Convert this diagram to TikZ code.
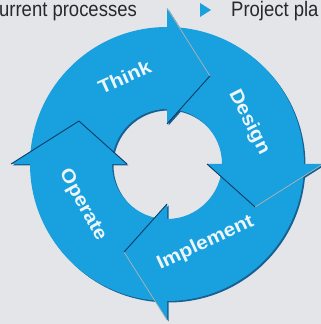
\documentclass[tikz,border=0pt]{standalone}
\usepackage{fontspec}
\setmainfont{Liberation Sans}
\newfontfamily\narrowfont[FakeStretch=0.88]{Liberation Sans}
\newfontfamily\widefont[FakeStretch=1.1]{Liberation Sans}
\usepackage{tikz}
\usepackage{xcolor}
\usetikzlibrary{positioning}
\definecolor{cycleblue}{RGB}{25,160,222}
\definecolor{cycleshade}{RGB}{24,96,146}
\definecolor{cycledark}{RGB}{12,60,100}
\definecolor{pagegrey}{RGB}{228,229,233}
\definecolor{textgrey}{RGB}{40,40,40}
\definecolor{labelwhite}{RGB}{236,246,252}

\begin{document}
\begin{tikzpicture}[x=1pt, y=1pt,
    ring/.style={fill=cycleblue},
    ringshadow/.style={fill=cycleshade},
    darkedge/.style={draw=cycledark, line width=0.9pt, line join=round},
    lightedge/.style={draw=gray!60, line width=0.7pt},
    steplabel/.style={text=labelwhite, font=\widefont\bfseries\fontsize{19}{19}\selectfont, inner sep=0pt},
    listtext/.style={text=textgrey, font=\narrowfont\fontsize{21}{21}\selectfont, inner sep=0pt}]
    \fill[pagegrey] (0,0) rectangle (321,324);
    \useasboundingbox (0,0) rectangle (321,324);
    % list items above the cycle
    \node[listtext, anchor=base east] (current) at (137,307) {urrent processes};
    \fill[cycleblue] (200,321) -- (211,314) -- (200,307) -- cycle;
    \node[listtext, anchor=base west] (plan) at (231,307) {Project pla};
    % the cycle, centred on the hole
    \begin{scope}[shift={(167,160)}]
        % soft shadow
        \begin{scope}[shift={(1.5,-1.5)}]
            \fill[ringshadow, even odd rule] (0,0) circle (137) (0,0) circle (55);
            \fill[ringshadow] (90:156) -- (64:98) -- (90:40) -- cycle;
            \fill[ringshadow] (0:156) -- (-26:98) -- (0:40) -- cycle;
            \fill[ringshadow] (-90:156) -- (-116:98) -- (-90:40) -- cycle;
            \fill[ringshadow] (180:156) -- (154:98) -- (180:40) -- cycle;
        \end{scope}
        % ring body
        \fill[ring, even odd rule] (0,0) circle (137) (0,0) circle (55);
        % arrow heads
        \fill[ring] (90:156) -- (64:98) -- (90:40) -- cycle;
        \draw[lightedge] (90:156) -- (64:98);
        \draw[darkedge] (64:98) -- (90:40);
        \fill[ring] (0:156) -- (-26:98) -- (0:40) -- cycle;
        \draw[lightedge] (0:156) -- (-26:98);
        \draw[darkedge] (-26:98) -- (0:40);
        \fill[ring] (-90:156) -- (-116:98) -- (-90:40) -- cycle;
        \draw[lightedge] (-90:156) -- (-116:98);
        \draw[darkedge] (-116:98) -- (-90:40);
        \fill[ring] (180:156) -- (154:98) -- (180:40) -- cycle;
        \draw[darkedge] (180:156) -- (154:98);
        \draw[darkedge] (154:98) -- (180:40);
        % step labels
        \node[steplabel, rotate=24] (think) at (116:97) {Think};
        \node[steplabel, rotate=-63] (design) at (27:92) {Design};
        \node[steplabel, rotate=25] (implement) at (-64:88) {Implement};
        \node[steplabel, rotate=-61] (operate) at (206:94) {Operate};
    \end{scope}
\end{tikzpicture}
\end{document}
